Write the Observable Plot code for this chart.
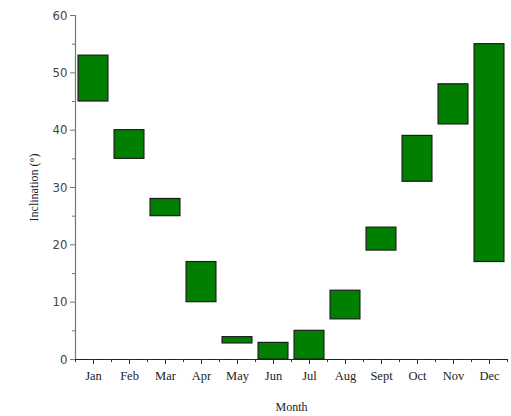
<!DOCTYPE html>
<html>
<head>
<meta charset="utf-8">
<script src="https://cdn.jsdelivr.net/npm/d3@7"></script>
<script src="https://cdn.jsdelivr.net/npm/@observablehq/plot@0.6"></script>
<style>
  html, body { margin: 0; padding: 0; background: #fff; }
</style>
</head>
<body>
<div id="chart"></div>
<script>
const months = ["Jan","Feb","Mar","Apr","May","Jun","Jul","Aug","Sept","Oct","Nov","Dec"];
const lowValues  = [45, 35, 25, 10, 2.8, 0, 0, 7, 19, 31, 41, 17];
const highValues = [53, 40, 28, 17, 3.9, 2.9, 5, 12, 23, 39, 48, 55];
const yMajorTicks = [0, 10, 20, 30, 40, 50, 60];
const yMinorTicks = [5, 15, 25, 35, 45, 55];

const data = months.map((m, i) => ({month: m, pos: i + 1, lo: lowValues[i], hi: highValues[i]}));
const majorX = data.map(d => d.pos);
const minorX = d3.range(0, 13).map(i => i + 0.5);
const half = 0.415;

const serif = "'Liberation Serif', 'Times New Roman', serif";
const narrow = "'Liberation Sans Narrow', 'DejaVu Sans Condensed', 'Liberation Sans', sans-serif";

const chart = Plot.plot({
  width: 511,
  height: 416,
  marginLeft: 75,
  marginRight: 4,
  marginTop: 15,
  marginBottom: 57,
  style: {fontSize: "12px", background: "#fff", color: "#222"},
  x: {type: "linear", domain: [0.5, 12.5]},
  y: {domain: [0, 60]},
  marks: [
    Plot.ruleX([0.5], {stroke: "#777", strokeWidth: 1.2}),
    Plot.axisY(yMajorTicks, {tickSize: 5, tickPadding: 3, stroke: "#777", fill: "#444", fontFamily: narrow, fontSize: 13, label: null}),
    Plot.axisY(yMinorTicks, {tickSize: 3, text: null, stroke: "#777", label: null}),
    Plot.axisY([], {label: "Inclination (°)", labelArrow: "none", labelAnchor: "center", labelOffset: 46, fontFamily: serif, fontSize: 12, fill: "#222"}),
    Plot.rectY(data, {x1: d => d.pos - half, x2: d => d.pos + half, y1: "lo", y2: "hi", fill: "#007f00", stroke: "#1c1c1c", strokeWidth: 1.2}),
    Plot.ruleY([0], {stroke: "#222", strokeWidth: 1.2}),
    Plot.axisX(majorX, {tickSize: 5, tickPadding: 7, tickFormat: p => months[p - 1], stroke: "#333", fill: "#222", fontFamily: serif, fontSize: 12.5, label: null}),
    Plot.axisX(minorX, {tickSize: 3, text: null, stroke: "#333", label: null}),
    Plot.axisX([], {label: "Month", labelArrow: "none", labelAnchor: "center", labelOffset: 51, fontFamily: serif, fontSize: 12, fill: "#222"})
  ]
});
document.getElementById("chart").appendChild(chart);
</script>
</body>
</html>
